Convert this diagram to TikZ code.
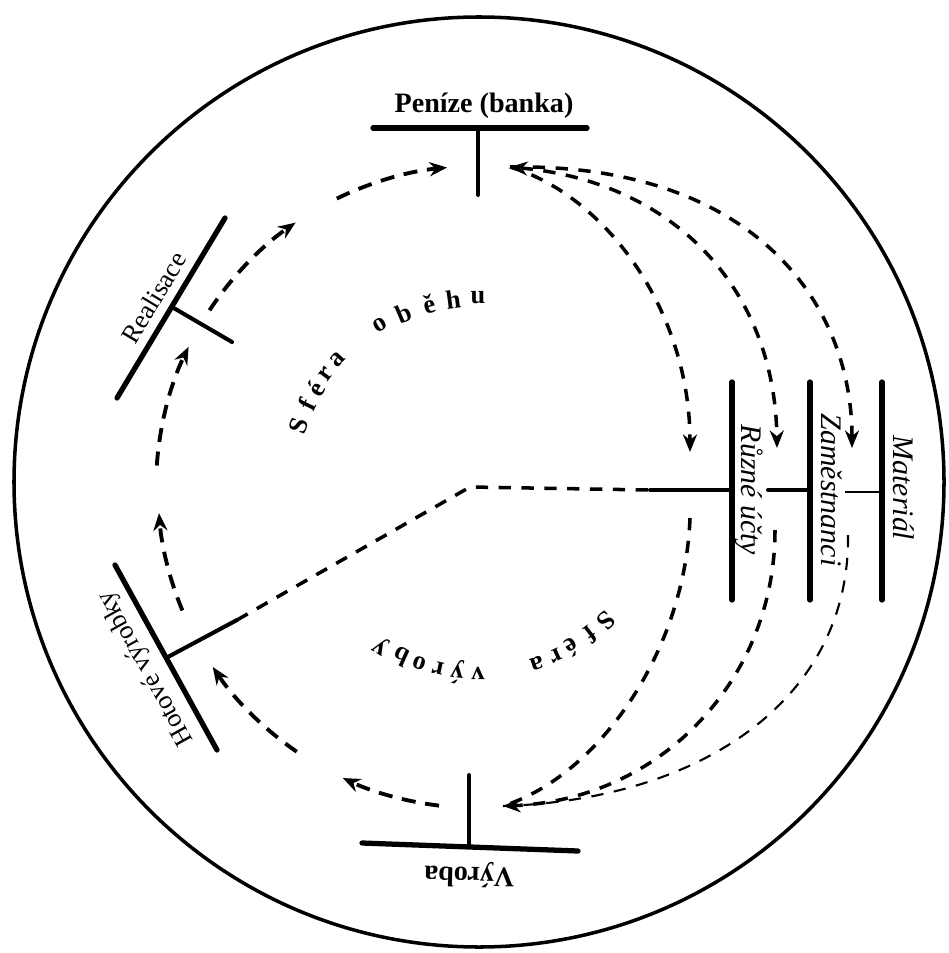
\documentclass[tikz,border=0pt]{standalone}
\usepackage{fontspec}
\setmainfont{Liberation Serif}
\usetikzlibrary{arrows.meta,calc}

\begin{document}
\begin{tikzpicture}[x=0.02cm,y=0.02cm,
  rim/.style={line width=2pt},
  bar/.style={line width=3pt,line cap=round},
  stem/.style={line width=2.3pt,line cap=round},
  flow/.style={line width=2.2pt,dash pattern=on 8pt off 5.5pt,-{Stealth[length=10pt,width=8pt]}},
  flowr/.style={line width=2pt,dash pattern=on 7pt off 6pt},
  tipl/.style={-{Stealth[length=10pt,width=8pt]}},
  lbl/.style={font=\fontsize{16}{19}\selectfont\bfseries,anchor=south,inner sep=5pt},
  lblr/.style={font=\fontsize{15}{18}\selectfont,anchor=south,inner sep=6pt},
  vlbl/.style={font=\fontsize{17}{20}\selectfont\itshape,anchor=south,inner sep=1.5pt,rotate=-90},
  ltr/.style={font=\fontsize{15}{17}\selectfont\bfseries,inner sep=0pt},
]
\useasboundingbox (0,0) rectangle (948,-953);

% outer wheel and its centre
\coordinate (rimc) at (479,-482);
\coordinate (ctr) at (478,-488);
\draw[rim] (rimc) circle[radius=465];

% stations: bar, stem, label
\coordinate (penzL) at (373,-128);
\coordinate (penzR) at (587,-128);
\coordinate (penzJ) at (478,-128);
\coordinate (penzS) at (478,-195);
\draw[bar] (penzL) -- (penzR);
\draw[stem] (penzJ) -- (penzS);
\node[lbl] (penz) at (484,-128) {Peníze (banka)};

\coordinate (realA) at (117,-398);
\coordinate (realB) at (225,-218);
\coordinate (realJ) at (172,-307);
\coordinate (realS) at (232,-342);
\draw[bar] (realA) -- (realB);
\draw[stem] (realJ) -- (realS);
\node[lblr,rotate=59] (real) at (171,-308) {Realisace};

\coordinate (hotA) at (115,-565);
\coordinate (hotB) at (217,-750);
\coordinate (hotJ) at (166,-658);
\coordinate (hotS) at (237,-620);
\draw[bar] (hotA) -- (hotB);
\draw[stem] (hotJ) -- (hotS);
\node[lblr,rotate=119] (hot) at (166,-657) {Hotové výrobky};

\coordinate (vyrL) at (362,-843);
\coordinate (vyrR) at (578,-851);
\coordinate (vyrJ) at (469,-847);
\coordinate (vyrS) at (469,-775);
\draw[bar] (vyrL) -- (vyrR);
\draw[stem] (vyrJ) -- (vyrS);
\node[lbl,rotate=178.5,inner sep=8pt] (vyr) at (470,-847) {Výroba};

% accounts on the right
\coordinate (ruzT) at (732,-382);
\coordinate (ruzB) at (732,-600);
\coordinate (ruzJ) at (732,-490);
\coordinate (ruzS) at (650,-490);
\draw[bar] (ruzT) -- (ruzB);
\draw[stem] (ruzJ) -- (ruzS);
\node[vlbl] (ruz) at (732,-490) {Různé účty};

\coordinate (zamT) at (810,-382);
\coordinate (zamB) at (810,-600);
\coordinate (zamJ) at (810,-490);
\coordinate (zamS) at (768,-490);
\draw[bar] (zamT) -- (zamB);
\draw[stem] (zamJ) -- (zamS);
\node[vlbl,inner sep=6pt] (zam) at (810,-490) {Zaměstnanci};

\coordinate (matT) at (882,-382);
\coordinate (matB) at (882,-600);
\coordinate (matJ) at (882,-492);
\coordinate (matS) at (845,-492);
\draw[bar] (matT) -- (matB);
\draw[line width=0.8pt] (matJ) -- (matS);
\node[vlbl,inner sep=6pt] (mat) at (882,-488) {Materiál};

% link through the centre
\coordinate (knee) at (470,-487);
\draw[flowr] (hotS) -- (knee) -- (ruzS);

% circulation on the left
\draw[flow] ([shift={(263:320)}]ctr) arc[start angle=263,end angle=245,radius=320];
\draw[flow] ([shift={(235.5:320)}]ctr) arc[start angle=235.5,end angle=214,radius=320];
\draw[flow] ([shift={(202.5:320)}]ctr) arc[start angle=202.5,end angle=184.5,radius=320];
\draw[flow] ([shift={(176:322)}]ctr) arc[start angle=176,end angle=154,radius=322];
\draw[flow] ([shift={(146.5:322)}]ctr) arc[start angle=146.5,end angle=124.5,radius=322];
\draw[flow] ([shift={(116:322)}]ctr) arc[start angle=116,end angle=95.5,radius=322];

% payments out of the bank
\coordinate (penzIn) at (510,-167);
\coordinate (ruzTop) at (690,-452);
\coordinate (zamTop) at (777,-448);
\coordinate (matTop) at (852,-448);
\draw[flowr,tipl] (penzIn) .. controls (605,-195) and (690,-310) .. (ruzTop);
\draw[flowr,{Stealth[length=10pt,width=8pt]}-{Stealth[length=10pt,width=8pt]}] (penzIn) .. controls (675,-182) and (775,-290) .. (zamTop);
\draw[flowr,tipl] (penzIn) .. controls (750,-163) and (852,-300) .. (matTop);

% into production
\coordinate (vyrIn) at (503,-806);
\coordinate (ruzBot) at (690,-518);
\coordinate (zamBot) at (775,-530);
\coordinate (matBot) at (848,-535);
\draw[flowr] (ruzBot) .. controls (685,-650) and (600,-775) .. (vyrIn);
\draw[flowr,tipl] (zamBot) .. controls (775,-680) and (660,-800) .. (vyrIn);
\draw[flowr,line width=1.2pt] (matBot) .. controls (850,-700) and (700,-800) .. (vyrIn);

% spheres
\foreach \l/\a [count=\i] in {S/161,f/154,é/148.5,r/143,a/137.5,o/121,b/113,ě/105,h/97.5,u/90}
  \node[ltr,rotate=\a-90] (obeh\i) at ([shift={(\a:190)}]ctr) {\l};
\foreach \l/\a [count=\i] in {S/-46,f/-52.5,é/-59.5,r/-65,a/-71.5,v/-90,ý/-96.5,r/-102.5,o/-108.5,b/-114.5,y/-121.5}
  \node[ltr,rotate=\a-90] (vyrb\i) at ([shift={(\a:185)}]ctr) {\l};
\end{tikzpicture}
\end{document}
